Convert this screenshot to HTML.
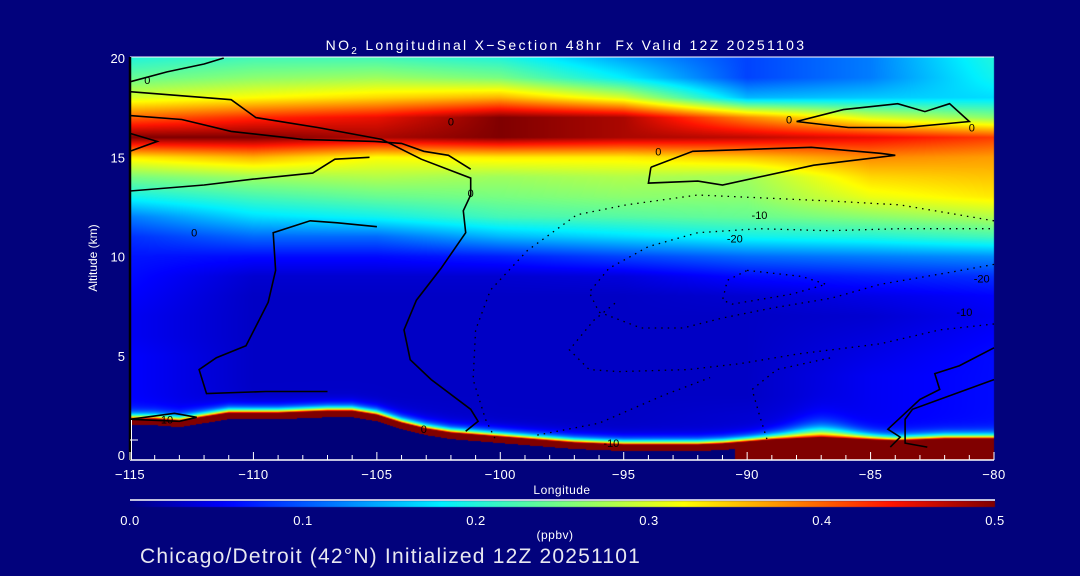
<!DOCTYPE html>
<html><head><meta charset="utf-8">
<style>
html,body{margin:0;padding:0;background:#02027c;width:1080px;height:576px;overflow:hidden}
#wrap{position:relative;width:1080px;height:576px;font-family:"Liberation Sans",sans-serif;color:#fff}
canvas{position:absolute;left:0;top:0}
svg{position:absolute;left:0;top:0}
</style></head>
<body>
<div id="wrap">
<canvas id="cv" width="1080" height="576"></canvas>
<svg id="sv" width="1080" height="576"></svg>
</div>
<script>
// ---- data ----
const lonGrid = [-115,-110,-105,-100,-95,-90,-85,-80];
const altLevels = [0,1,2,3,4,5,6,7,8,9,10,11,12,13,14,15,16,17,18,19,20];
const prof_m115 = [.055,.055,.055,.055,.055,.055,.05,.05,.055,.06,.065,.08,.12,.19,.25,.33,.5,.4,.3,.24,.2];
const prof_m110 = [.035,.035,.035,.03,.03,.03,.03,.03,.03,.035,.06,.11,.17,.22,.27,.36,.5,.43,.32,.26,.22];
const prof_m105 = [.035,.035,.035,.03,.03,.03,.03,.03,.03,.035,.06,.11,.19,.24,.28,.32,.48,.45,.34,.27,.22];
const prof_m100 = [.03,.03,.03,.03,.03,.03,.03,.03,.03,.035,.07,.15,.22,.25,.27,.33,.5,.5,.36,.25,.2];
const prof_m95  = [.03,.03,.03,.03,.03,.03,.03,.03,.03,.04,.09,.17,.23,.26,.28,.33,.48,.48,.3,.18,.14];
const prof_m90  = [.035,.035,.035,.03,.03,.03,.03,.03,.035,.06,.11,.19,.24,.26,.27,.35,.47,.38,.15,.09,.09];
const prof_m85  = [.05,.05,.05,.05,.05,.045,.04,.035,.045,.07,.12,.2,.26,.31,.34,.38,.45,.3,.16,.12,.12];
const prof_m80  = [.06,.06,.06,.06,.06,.06,.055,.05,.055,.08,.13,.22,.28,.33,.35,.37,.42,.26,.17,.19,.2];
const profiles = [prof_m115,prof_m110,prof_m105,prof_m100,prof_m95,prof_m90,prof_m85,prof_m80];
const terrainLon = [-115,-114,-113,-112,-111,-110,-109,-108,-107,-106,-105,-104,-103,-102,-101,-100,-99,-98,-97,-96,-95,-94,-93,-92,-91,-90,-89,-88,-87,-86,-85,-84,-83,-82,-81,-80];
const terrainAlt = [1.8,1.8,1.7,1.9,2.1,2.1,2.1,2.15,2.2,2.2,2.0,1.6,1.3,1.1,1.0,0.9,0.8,0.7,0.6,0.55,0.5,0.5,0.5,0.5,0.55,0.65,0.75,0.8,0.85,0.8,0.75,0.7,0.75,0.8,0.8,0.8];
const xTicks = [-115,-110,-105,-100,-95,-90,-85,-80];
const yTicks = [0,5,10,15,20];
const cbTicks = [0.0,0.1,0.2,0.3,0.4,0.5];
const contourSolid = [
 [[-115,18.8],[-113.5,19.3],[-112,19.7],[-111.2,20]],
 [[-115,18.3],[-110.9,17.9],[-109.9,17.0],[-107.4,16.5],[-104.8,15.9],[-103.2,14.9],[-101.2,13.95],[-101.2,13.1],[-101.5,12.3],[-101.4,11.2],[-102.4,9.4],[-103.4,7.8],[-103.9,6.3],[-103.65,4.8],[-102.8,3.8],[-101.2,2.3],[-100.9,1.7],[-101.4,1.2]],
 [[-115,17.1],[-112.9,16.9],[-110.9,16.3],[-108,15.9],[-105.1,15.8],[-104,15.7],[-103.1,15.3],[-102.1,15.1],[-101.2,14.4]],
 [[-115,15.3],[-113.9,15.8],[-115,16.2]],
 [[-115,13.3],[-112,13.6],[-110,13.9],[-107.6,14.2],[-106.7,14.9],[-105.3,15.0]],
 [[-105,11.5],[-106.6,11.7],[-107.7,11.8],[-109.2,11.2],[-109.1,9.3],[-109.4,7.7],[-110.3,5.5],[-111.5,4.9],[-112.2,4.3],[-111.9,3.1],[-109.5,3.2],[-107,3.2]],
 [[-93.9,14.5],[-92.2,15.3],[-87.4,15.5],[-84.6,15.2],[-84.0,15.1],[-87.3,14.6],[-91.0,13.6],[-92.0,13.8],[-94,13.7],[-93.9,14.5]],
 [[-88,16.8],[-86.1,17.4],[-83.9,17.7],[-82.8,17.3],[-81.8,17.7],[-81,16.8],[-83.6,16.5],[-85.9,16.5],[-87.3,16.7],[-88,16.8]],
 [[-80,5.4],[-81.4,4.5],[-82.4,4.1],[-82.2,3.3],[-83,2.8],[-84.3,1.3],[-83.8,0.9],[-84.2,0.4]],
 [[-80,3.8],[-83.3,2.3],[-83.6,1.8],[-83.6,0.6],[-82.7,0.4]],
 [[-115,1.8],[-113.2,2.1],[-112.3,1.9],[-113,1.7],[-115,1.8]]
];
const contourDotted = [
 [[-80,11.8],[-83.8,12.6],[-86.7,12.8],[-92,13.1],[-94.9,12.6],[-96.9,12.1],[-98.9,10.3],[-100.4,8.3],[-101,6.3],[-101.1,3.8],[-100.6,1.8],[-100.2,0.8]],
 [[-80,9.6],[-81.8,9.2],[-84.6,8.6],[-86.6,7.9],[-89,7.4],[-91,6.9],[-92.6,6.4],[-94.3,6.4],[-96,7.2],[-96.4,8.2],[-95.6,9.4],[-94,10.5],[-92,11.2],[-89.5,11.4],[-86.7,11.3],[-83.8,11.4],[-80,11.4]],
 [[-90,9.3],[-87.8,9.0],[-86.8,8.6],[-88.2,8.1],[-90.6,7.6],[-91,7.8],[-90.8,8.8],[-90,9.3]],
 [[-80,6.6],[-82.2,6.3],[-84.6,5.6],[-87.9,5.1],[-90.3,4.6],[-92.4,4.3],[-95.2,4.2],[-96.4,4.3],[-97.2,5.3],[-96.2,6.8],[-95.2,7.8]],
 [[-89.2,0.8],[-89.5,2.0],[-89.8,3.3],[-88.8,4.3],[-86.6,4.9]],
 [[-98.5,1.0],[-96,1.6],[-93.4,3.0],[-91.5,3.9]]
];
const contourLabels = [["0",-114.3,18.9],["0",-102,16.8],["0",-101.2,13.2],["0",-112.4,11.2],["0",-93.6,15.3],["0",-88.3,16.9],["0",-80.9,16.5],["0",-103.1,1.3],["-10",-89.5,12.1],["-20",-90.5,10.9],["-20",-80.5,8.9],["-10",-81.2,7.2],["-10",-95.5,0.6],["10",-113.5,1.8]];

// ---- axes ----
const X0=130,X1=994,Y0=455,Y20=58;
const xS = lon => X0 + (lon+115)/35*(X1-X0);
const yS = alt => Y0 - alt/20*(Y0-Y20);
const xInv = x => -115 + (x-X0)/(X1-X0)*35;
const yInv = y => (Y0-y)/(Y0-Y20)*20;

function jet(v){
  let t=Math.max(0,Math.min(1,v/0.5));
  const st=[[0,0,0,128],[0.11,0,0,255],[0.36,0,240,255],[0.5,120,255,130],[0.64,255,255,0],[0.88,255,20,0],[1,128,0,0]];
  for(let i=1;i<st.length;i++){ if(t<=st[i][0]){const a=st[i-1],b=st[i],f=(t-a[0])/(b[0]-a[0]);
    return [a[1]+(b[1]-a[1])*f,a[2]+(b[2]-a[2])*f,a[3]+(b[3]-a[3])*f];}}
  return [128,0,0];
}
function interp(xs,ys,x){
  if(x<=xs[0])return ys[0]; if(x>=xs[xs.length-1])return ys[ys.length-1];
  for(let i=1;i<xs.length;i++){ if(x<=xs[i]){const f=(x-xs[i-1])/(xs[i]-xs[i-1]);return ys[i-1]+(ys[i]-ys[i-1])*f;}}
  return ys[ys.length-1];
}
function field(lon,alt){
  let col=[]; for(let j=0;j<lonGrid.length;j++) col.push(interp(altLevels,profiles[j],alt));
  return interp(lonGrid,col,lon);
}
const cv=document.getElementById('cv'),ctx=cv.getContext('2d');
const plotTop=57,plotBot=460;
const img=ctx.createImageData(X1-X0,plotBot-plotTop);
for(let px=X0;px<X1;px++){
  const lon=xInv(px+0.5), surf=interp(terrainLon,terrainAlt,lon);
  const halo = 0.18 + 0.18*Math.exp(-Math.pow((lon+87)/1.5,2));
  for(let py=plotTop;py<plotBot;py++){
    const alt=yInv(py+0.5); let c;
    if(alt<surf){
      if(surf-alt<0.3 || lon>-90.5) c=[128,0,0]; else c=[0,0,120];
    } else {
      let v=field(lon,alt); v+= (0.55-v)*Math.exp(-(alt-surf)/halo);
      c=jet(v);
    }
    const k=((py-plotTop)*(X1-X0)+(px-X0))*4;
    img.data[k]=c[0];img.data[k+1]=c[1];img.data[k+2]=c[2];img.data[k+3]=255;
  }
}
ctx.putImageData(img,X0,plotTop);
const cbg=ctx.createLinearGradient(130,0,995,0);
for(let i=0;i<=50;i++){const c=jet(i/100);cbg.addColorStop(i/50,`rgb(${c[0]|0},${c[1]|0},${c[2]|0})`);}
ctx.fillStyle=cbg;ctx.fillRect(130,501,865,6);

// ---- svg ----
const NS='http://www.w3.org/2000/svg',sv=document.getElementById('sv');
function mk(tag,attrs,parent){const e=document.createElementNS(NS,tag);for(const k in attrs)e.setAttribute(k,attrs[k]);(parent||sv).appendChild(e);return e;}
function txt(s,attrs){const e=mk('text',Object.assign({fill:'#fff','font-family':'Liberation Sans, sans-serif'},attrs));e.textContent=s;return e;}
const ptsStr = arr => arr.map(p=>xS(p[0]).toFixed(1)+','+yS(p[1]).toFixed(1)).join(' ');
contourSolid.forEach(c=>{const e=mk('polyline',{points:ptsStr(c),fill:'none',stroke:'#000','stroke-width':1.6});

});
contourDotted.forEach(c=>{const e=mk('polyline',{points:ptsStr(c),fill:'none',stroke:'#000','stroke-width':1.3,'stroke-dasharray':'1.5 5'});

});
contourLabels.forEach(l=>{const e=txt(l[0],{x:xS(l[1]),y:yS(l[2])+4,fill:'#000','font-size':11,'text-anchor':'middle'});

});
const fr=mk('line',{x1:130,y1:57,x2:994,y2:57,stroke:'#fff','stroke-width':1});


const xa=mk('line',{x1:130,y1:460,x2:994,y2:460,stroke:'#fff','stroke-width':1.5});


const ya=mk('line',{x1:130,y1:57,x2:130,y2:460,stroke:'#000','stroke-width':2.5});


mk('line',{x1:131.5,y1:420,x2:131.5,y2:460,stroke:'#fff','stroke-width':1});
for(let lon=-115;lon<=-80;lon++){const major=lon%5===0;
 mk('line',{x1:xS(lon),y1:460,x2:xS(lon),y2:major?452:455,stroke:'#fff','stroke-width':1});}
xTicks.forEach(t=>{const e=txt(t<0?'\u2212'+(-t):String(t),{x:xS(t),y:479,'font-size':13,'text-anchor':'middle','letter-spacing':'0.5'});

});
yTicks.forEach(t=>{const e=txt(String(t),{x:125,y:yS(t)+5,'font-size':13,'text-anchor':'end'});

});
mk('line',{x1:130,y1:440,x2:138,y2:440,stroke:'#fff','stroke-width':1});
const xt=txt('Longitude',{x:562,y:494,'font-size':12,'text-anchor':'middle','letter-spacing':'0.5'});


const yt=txt('Altitude (km)',{x:0,y:0,'font-size':12,'text-anchor':'middle',transform:'translate(97,258) rotate(-90)'});


const tt=txt('',{x:566,y:50,'font-size':14,'text-anchor':'middle','letter-spacing':'2.3'});


tt.innerHTML='NO<tspan font-size="10" dy="4">2</tspan><tspan dy="-4"> Longitudinal X\u2212Section 48hr \u00A0Fx Valid 12Z 20251103</tspan>';
const cbl=mk('line',{x1:130,y1:500,x2:995,y2:500,stroke:'#fff','stroke-width':1.5});


cbTicks.forEach(t=>{const e=txt(t.toFixed(1),{x:130+t/0.5*865,y:525,'font-size':13,'text-anchor':'middle','letter-spacing':'0.5'});

});
const un=txt('(ppbv)',{x:555,y:539,'font-size':12,'text-anchor':'middle','letter-spacing':'0.5'});


const st=txt('Chicago/Detroit (42\u00B0N) Initialized 12Z 20251101',{x:140,y:563,'font-size':21,fill:'#e8e8f0','letter-spacing':'1.2'});


</script>
</body></html>
